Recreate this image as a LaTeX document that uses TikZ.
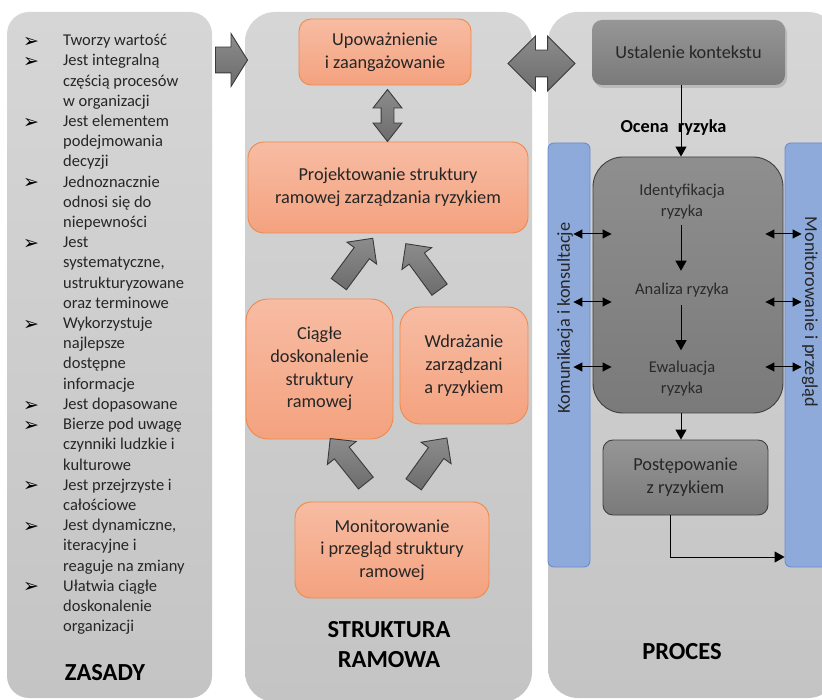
\documentclass[tikz,border=0pt]{standalone}
\usepackage{fontspec}
\setmainfont{Carlito}
\newfontfamily\symfont{DejaVu Sans}
\usetikzlibrary{shapes.arrows,calc,shadows,arrows.meta}

\definecolor{panelTop}{HTML}{D6D6D6}
\definecolor{panelBot}{HTML}{C4C4C4}
\definecolor{orTop}{HTML}{F7BCA3}
\definecolor{orBot}{HTML}{F4A27F}
\definecolor{orLine}{HTML}{EF8A4C}
\definecolor{dkTop}{HTML}{969696}
\definecolor{dkBot}{HTML}{7A7A7A}
\definecolor{dkLine}{HTML}{3F3F3F}
\definecolor{bluFill}{HTML}{8EAADB}
\definecolor{bluLine}{HTML}{6A8DCF}
\definecolor{arTop}{HTML}{8C8C8C}
\definecolor{arBot}{HTML}{6C6C6C}
\definecolor{arLine}{HTML}{3A3A3A}
\definecolor{txt}{HTML}{262626}
\definecolor{txtDark}{HTML}{2A2A2A}

\newcommand\listfont{\fontsize{16.5}{20.2}\selectfont}
\newcommand\boxfont{\fontsize{18.3}{22.7}\selectfont}
\newcommand\innerfont{\fontsize{16.5}{21}\selectfont}
\newcommand\titlefont{\bfseries\fontsize{24.5}{30}\selectfont}

\begin{document}
\begin{tikzpicture}[x=1pt,y=-1pt,
  panel/.style={draw=none, top color=panelTop, bottom color=panelBot, inner sep=0pt},
  orbox/.style={draw=orLine, line width=0.9pt, top color=orTop, bottom color=orBot,
    align=center, text=txt, font=\boxfont, inner sep=0pt},
  dkbox/.style={draw=dkLine, line width=0.9pt, top color=dkTop, bottom color=dkBot,
    align=center, text=txt, font=\boxfont, inner sep=0pt},
  bluebar/.style={draw=bluLine, line width=0.9pt, fill=bluFill, inner sep=0pt,
    rounded corners=6pt},
  bartext/.style={font=\boxfont, text=txt},
  innertext/.style={font=\innerfont, text=txtDark, align=center, inner sep=2pt},
  title/.style={font=\titlefont, text=black, align=center},
  blockarr/.style={single arrow, draw=arLine, line width=0.9pt, top color=arTop,
    bottom color=arBot, inner xsep=0pt},
  twinarr/.style={double arrow, draw=arLine, line width=0.9pt, top color=arTop,
    bottom color=arBot, inner xsep=0pt},
  tiltarr/.style={blockarr, minimum height=57pt, inner ysep=9pt,
    single arrow head extend=9pt, single arrow tip angle=90,
    midway, sloped, allow upside down},
  flow/.style={draw=black, line width=1pt, -{Triangle[length=10pt,width=11pt]}},
  twoway/.style={draw=black, line width=1pt,
    {Triangle[length=9pt,width=9pt]}-{Triangle[length=9pt,width=9pt]}},
  listline/.style={font=\listfont, text=txt, anchor=base west, inner sep=0pt},
  bulletmark/.style={font=\symfont\bfseries\fontsize{19}{20}\selectfont, text=black,
    anchor=base, inner sep=0pt}
]
\useasboundingbox (0,0) rectangle (822,700);
\clip (0,0) rectangle (822,700);

% ---- three column panels ----
\node[panel, minimum width=205pt, minimum height=686pt, rounded corners=22pt]
  (zasady) at (109.5,355) {};
\node[panel, minimum width=287pt, minimum height=690pt, rounded corners=30pt]
  (struktura) at (388.5,357) {};
\node[panel, minimum width=290pt, minimum height=686pt, rounded corners=30pt]
  (proces) at (693,355) {};

% ---- column titles ----
\node[title] (tzas) at (105,673) {ZASADY};
\node[title] (tstr) at (389,645) {STRUKTURA\\RAMOWA};
\node[title] (tpro) at (682,652) {PROCES};

% ---- list of principles ----
\foreach \b/\t [count=\i from 0] in {
  1/{Tworzy wartość}, 1/{Jest integralną}, 0/{częścią procesów}, 0/{w organizacji},
  1/{Jest elementem}, 0/{podejmowania}, 0/{decyzji},
  1/{Jednoznacznie}, 0/{odnosi się do}, 0/{niepewności},
  1/{Jest}, 0/{systematyczne,}, 0/{ustrukturyzowane}, 0/{oraz terminowe},
  1/{Wykorzystuje}, 0/{najlepsze}, 0/{dostępne}, 0/{informacje},
  1/{Jest dopasowane},
  1/{Bierze pod uwagę}, 0/{czynniki ludzkie i}, 0/{kulturowe},
  1/{Jest przejrzyste i}, 0/{całościowe},
  1/{Jest dynamiczne,}, 0/{iteracyjne i}, 0/{reaguje na zmiany},
  1/{Ułatwia ciągłe}, 0/{doskonalenie}, 0/{organizacji}} {
  \node[listline] (L\i) at (63,{45.8+20.2*\i}) {\t};
  \ifnum\b=1
    \node[bulletmark] (B\i) at (31,{47.5+20.2*\i}) {➢};
  \fi
}

% ---- framework boxes ----
\node[orbox, minimum width=172pt, minimum height=66pt, rounded corners=12pt]
  (upow) at (385,52) {Upoważnienie\\i zaangażowanie};
\node[orbox, minimum width=280pt, minimum height=91pt, rounded corners=16pt]
  (proj) at (388,187.5) {Projektowanie struktury\\ramowej zarządzania ryzykiem};
\node[orbox, minimum width=147pt, minimum height=140pt, rounded corners=22pt]
  (ciag) at (319.5,369) {Ciągłe\\doskonalenie\\struktury\\ramowej};
\node[orbox, minimum width=128pt, minimum height=117pt, rounded corners=20pt]
  (wdra) at (464,365.5) {Wdrażanie\\zarządzani\\a ryzykiem};
\node[orbox, minimum width=194pt, minimum height=96pt, rounded corners=16pt]
  (moni) at (392,550) {Monitorowanie\\i przegląd struktury\\ramowej};

% ---- block arrows of the framework cycle ----
\node[blockarr, minimum height=32pt, inner ysep=12.5pt,
  single arrow head extend=13.5pt, single arrow tip angle=116]
  (toStr) at (227.5,60) {};
\node[twinarr, minimum height=67pt, inner ysep=13pt,
  double arrow head extend=14pt, double arrow tip angle=90]
  (strPro) at (541.5,63.5) {};
\node[twinarr, rotate=90, minimum height=52pt, inner ysep=6pt,
  double arrow head extend=8pt, double arrow tip angle=76]
  (upowProj) at ($(upow.south)!0.5!(proj.north)+(1,2)$) {};

\coordinate (t1) at (336,288); \coordinate (h1) at (370,242);
\coordinate (t2) at (442,293); \coordinate (h2) at (409,248);
\coordinate (t3) at (369,487); \coordinate (h3) at (333,442);
\coordinate (t4) at (411,488); \coordinate (h4) at (444,442);
\path (t1) -- (h1) node[tiltarr] (c2p) {};
\path (t2) -- (h2) node[tiltarr] (w2p) {};
\path (t3) -- (h3) node[tiltarr] (m2c) {};
\path (t4) -- (h4) node[tiltarr] (m2w) {};

% ---- risk management process ----
\node[bluebar, minimum width=42pt, minimum height=424pt] (kombar) at (569,355) {};
\node[bluebar, minimum width=45pt, minimum height=424pt] (monbar) at (807.5,355) {};
\node[bartext, rotate=90] (komtext) at (565,318) {Komunikacja i konsultacje};
\node[bartext, rotate=-90] (montext) at (810,312) {Monitorowanie i przegląd};

\node[dkbox, draw=none, minimum width=193pt, minimum height=65pt, rounded corners=10pt,
  drop shadow={shadow xshift=2pt, shadow yshift=-3pt, opacity=0.3}]
  (ustal) at (688.5,52.5) {Ustalenie kontekstu};
\node[dkbox, top color=dkTop!95!black, bottom color=dkBot, minimum width=190pt,
  minimum height=256pt, rounded corners=30pt] (ocena) at (688,285) {};
\node[dkbox, minimum width=165pt, minimum height=75pt, rounded corners=10pt]
  (post) at (685.5,477.5) {Postępowanie\\z ryzykiem};

\node[font=\bfseries\fontsize{18.3}{22}\selectfont, text=black] (ocenaLbl)
  at (673.5,128) {Ocena\hspace{0.5em}ryzyka};

\node[innertext] (ident) at (682,202) {Identyfikacja\\ryzyka};
\node[innertext] (anal) at (682,290) {Analiza ryzyka};
\node[innertext] (ewal) at (682,379) {Ewaluacja\\ryzyka};

\coordinate (axis) at (681,0);
\draw[flow] (ustal.south -| axis) -- (ocena.north -| axis);
\draw[flow] ([yshift=-3pt]ident.south -| axis) -- ([yshift=10pt]anal.north -| axis);
\draw[flow] ([yshift=-6pt]anal.south -| axis) -- ([yshift=9pt]ewal.north -| axis);
\draw[flow] (ocena.south -| axis) -- (post.north -| axis);

\coordinate (turn) at ([xshift=-15.5pt]post.south |- 0,557);
\draw[flow, -] ([xshift=-15.5pt]post.south) -- (turn);
\draw[flow] (turn) -- (turn -| monbar.west);

% ---- links between the assessment and the side bars ----
\coordinate (r1) at (0,234);
\coordinate (r2) at (0,302);
\coordinate (r3) at (0,367);
\coordinate (kl) at ([xshift=-17pt]kombar.east);
\coordinate (bl) at ([xshift=19pt]ocena.west);
\coordinate (br) at ([xshift=-18pt]ocena.east);
\coordinate (mr) at ([xshift=17pt]monbar.west);
\foreach \r in {r1,r2,r3} {
  \draw[twoway] (kl |- \r) -- (bl |- \r);
  \draw[twoway] (br |- \r) -- (mr |- \r);
}
\end{tikzpicture}
\end{document}
